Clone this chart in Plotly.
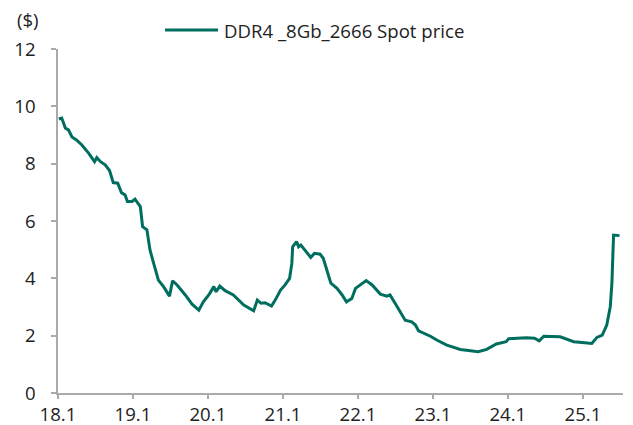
import plotly.graph_objects as go

dates = [
    "2018-01-05", "2018-01-19", "2018-02-06", "2018-02-21", "2018-03-10", "2018-04-01",
    "2018-04-26", "2018-05-30", "2018-06-28", "2018-07-09", "2018-07-27", "2018-08-19",
    "2018-09-09", "2018-09-27", "2018-10-19", "2018-11-06", "2018-11-24", "2018-12-05",
    "2018-12-28", "2019-01-11", "2019-02-06", "2019-02-17", "2019-03-10", "2019-03-25",
    "2019-04-12", "2019-05-05", "2019-05-30", "2019-06-28", "2019-07-13", "2019-08-04",
    "2019-09-13", "2019-10-16", "2019-11-18", "2019-12-10", "2020-01-08", "2020-01-30",
    "2020-02-10", "2020-02-28", "2020-03-25", "2020-05-04", "2020-06-24", "2020-08-11",
    "2020-08-29", "2020-09-16", "2020-10-05", "2020-11-06", "2020-11-24", "2020-12-20",
    "2021-01-11", "2021-02-02", "2021-02-13", "2021-02-17", "2021-03-08", "2021-03-18",
    "2021-03-29", "2021-04-20", "2021-05-16", "2021-06-03", "2021-07-01", "2021-07-16",
    "2021-08-04", "2021-08-22", "2021-09-21", "2021-10-16", "2021-11-06", "2021-12-02",
    "2021-12-20", "2022-01-12", "2022-02-10", "2022-03-11", "2022-04-20", "2022-05-22",
    "2022-06-06", "2022-07-01", "2022-07-25", "2022-08-19", "2022-09-20", "2022-10-08",
    "2022-10-23", "2022-12-20", "2023-01-22", "2023-03-10", "2023-05-15", "2023-07-01",
    "2023-08-10", "2023-09-20", "2023-11-06", "2023-12-24", "2024-01-05", "2024-04-01",
    "2024-05-10", "2024-06-02", "2024-06-24", "2024-09-12", "2024-11-17", "2025-01-10",
    "2025-02-13", "2025-03-10", "2025-04-05", "2025-04-27", "2025-05-14", "2025-05-22",
    "2025-05-27", "2025-05-30", "2025-06-28",
]
prices = [
    9.56, 9.59, 9.24, 9.18, 8.93, 8.83,
    8.66, 8.37, 8.07, 8.21, 8.07, 7.96,
    7.76, 7.34, 7.32, 6.99, 6.91, 6.68,
    6.68, 6.76, 6.50, 5.80, 5.69, 4.99,
    4.52, 3.94, 3.71, 3.38, 3.91, 3.77,
    3.42, 3.10, 2.89, 3.18, 3.45, 3.71,
    3.53, 3.73, 3.57, 3.42, 3.07, 2.87,
    3.24, 3.13, 3.15, 3.03, 3.24, 3.59,
    3.77, 4.00, 4.52, 5.10, 5.28, 5.10,
    5.16, 4.97, 4.73, 4.87, 4.84, 4.70,
    4.29, 3.83, 3.65, 3.42, 3.18, 3.30,
    3.65, 3.77, 3.92, 3.77, 3.45, 3.38,
    3.42, 3.13, 2.82, 2.54, 2.48, 2.37,
    2.17, 1.98, 1.84, 1.67, 1.52, 1.47,
    1.44, 1.52, 1.71, 1.79, 1.89, 1.93,
    1.91, 1.82, 1.98, 1.96, 1.79, 1.75,
    1.73, 1.94, 2.02, 2.37, 3.01, 3.83,
    4.64, 5.51, 5.49,
]
series_name = "DDR4 _8Gb_2666 Spot price"
unit_label = "($)"
y_ticks = [0, 2, 4, 6, 8, 10, 12]

LINE = "#006E5F"
AXIS = "#AAAAAA"
TEXT = "#222222"
FONT = "Open Sans"
FS = 18.6

fig = go.Figure()
fig.add_trace(go.Scatter(
    x=dates, y=prices, mode="lines", name=series_name, showlegend=False,
    line=dict(color=LINE, width=3, shape="linear"),
))

# legend drawn as a sample line + real text label
fig.add_shape(type="line", xref="paper", yref="paper",
              x0=0.1894, x1=0.2832, y0=1.0552, y1=1.0552,
              line=dict(color=LINE, width=3))

fig.update_layout(
    width=625, height=417,
    margin=dict(l=50, r=10, t=41, b=32, autoexpand=False),
    paper_bgcolor="white", plot_bgcolor="white",
    font=dict(family=FONT, size=FS, color=TEXT),
    showlegend=False,
    xaxis=dict(
        type="date", automargin=False,
        range=["2018-01-01", "2025-07-15"],
        tick0="2018-01-01", dtick="M12", tickformat="%y.%-m",
        showgrid=False, zeroline=False,
        showline=True, linecolor=AXIS, linewidth=1.5,
        ticks="outside", ticklen=4, tickcolor=AXIS, tickwidth=1.5,
        tickfont=dict(size=FS, color=TEXT),
    ),
    yaxis=dict(
        range=[0, 12], tickvals=y_ticks, automargin=False,
        showgrid=False, zeroline=False,
        showline=True, linecolor=AXIS, linewidth=1.5,
        ticks="outside", ticklen=5, tickcolor=AXIS, tickwidth=1.5,
        ticklabelstandoff=12,
        tickfont=dict(size=FS, color=TEXT),
    ),
    annotations=[
        dict(text=unit_label, xref="paper", yref="paper", x=-0.0531, y=1.0858,
             xanchor="center", yanchor="middle", showarrow=False,
             font=dict(size=FS, color=TEXT)),
        dict(text=series_name, xref="paper", yref="paper", x=0.2903, y=1.0552,
             xanchor="left", yanchor="middle", showarrow=False,
             font=dict(size=FS, color=TEXT)),
    ],
)

fig.write_html("out.html")
